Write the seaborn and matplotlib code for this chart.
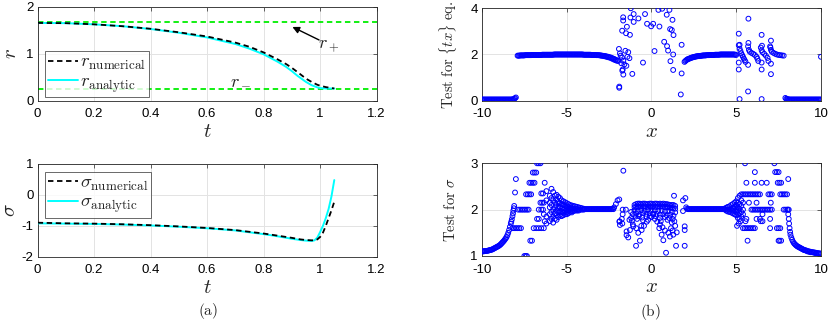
import numpy as np
import pandas as pd
import matplotlib
matplotlib.use("Agg")
import matplotlib.pyplot as plt
import seaborn as sns

# === DADOS: PAINEL (a) ===
t_an = [0.0, 0.1, 0.2, 0.3, 0.4, 0.5, 0.6, 0.7, 0.75, 0.8, 0.85, 0.88, 0.9, 0.92, 0.95, 0.97, 0.99, 1.0, 1.02, 1.05]
r_an = [1.66, 1.655, 1.63, 1.59, 1.53, 1.45, 1.35, 1.21, 1.11, 0.99, 0.83, 0.72, 0.63, 0.53, 0.40, 0.33, 0.285, 0.27, 0.26, 0.26]
t_num = [0.0, 0.1, 0.2, 0.3, 0.4, 0.5, 0.6, 0.7, 0.75, 0.8, 0.85, 0.88, 0.9, 0.92, 0.95, 0.97, 0.99, 1.0, 1.02, 1.05]
r_num = [1.66, 1.655, 1.63, 1.59, 1.535, 1.46, 1.37, 1.24, 1.15, 1.03, 0.88, 0.78, 0.70, 0.61, 0.47, 0.40, 0.34, 0.32, 0.29, 0.26]
r_plus = 1.67
r_minus = 0.26

ts_an = [0.0, 0.1, 0.2, 0.3, 0.4, 0.5, 0.6, 0.7, 0.8, 0.85, 0.9, 0.93, 0.95, 0.97, 0.98, 0.99, 1.0, 1.01, 1.02, 1.03, 1.04, 1.05]
sig_an = [-0.92, -0.93, -0.94, -0.96, -0.99, -1.03, -1.08, -1.15, -1.27, -1.34, -1.42, -1.46, -1.48, -1.49, -1.47, -1.38, -1.2, -1.0, -0.75, -0.45, -0.05, 0.48]
ts_num = [0.0, 0.1, 0.2, 0.3, 0.4, 0.5, 0.6, 0.7, 0.8, 0.85, 0.9, 0.93, 0.95, 0.97, 0.98, 0.99, 1.0, 1.01, 1.02, 1.03, 1.04, 1.05]
sig_num = [-0.90, -0.92, -0.93, -0.95, -0.98, -1.02, -1.07, -1.14, -1.25, -1.32, -1.39, -1.44, -1.46, -1.47, -1.47, -1.44, -1.36, -1.22, -1.0, -0.75, -0.5, -0.22]

# === DADOS: PAINEL (b), teste {tx} ===
tx_x = [-10.0, -9.9, -9.8, -9.7, -9.6, -9.5, -9.4, -9.3, -9.2, -9.1, -9.0, -8.9, -8.8, -8.7, -8.6, -8.5, -8.4, -8.3, -8.2, -8.1, -8.05, -8.0,
        -7.9, -7.8, -7.7, -7.6, -7.5, -7.4, -7.3, -7.2, -7.1, -7.0, -6.9, -6.8, -6.7, -6.6, -6.5, -6.4, -6.3, -6.2, -6.1, -6.0,
        -5.9, -5.8, -5.7, -5.6, -5.5, -5.4, -5.3, -5.2, -5.1, -5.0, -4.9, -4.8, -4.7, -4.6, -4.5, -4.4, -4.3, -4.2, -4.1, -4.0,
        -3.9, -3.8, -3.7, -3.6, -3.5, -3.4, -3.3, -3.2, -3.1, -3.0, -2.9, -2.8, -2.7, -2.6, -2.5, -2.4, -2.3, -2.2, -2.1, -2.0,
        -1.95, -1.9, -1.92, -1.86, -1.74, -1.66, -1.54, -1.48, -1.37, -1.3, -1.7, -1.66, -1.9, -1.13, -1.72, -1.67, -1.73, -1.67,
        -1.5, -1.45, -1.24, -1.22, -1.05, -1.05, -0.77, -0.5, -0.38, -0.26, -0.02, 0.1, 0.18, 0.41, 0.47, 0.63, 0.75, 0.9, 0.92,
        0.98, 1.06, 1.1, 1.12, 1.2, 1.24, 1.3, 1.28, 1.28, 1.78, 1.78, 1.73, -1.6, -1.42, -1.82, -1.78, -1.27,
        1.95, 2.0, 2.05, 2.1, 2.2, 2.3, 2.4, 2.5, 2.6, 2.7, 2.8, 2.9, 3.0, 3.1, 3.2, 3.3, 3.4, 3.5, 3.6, 3.7, 3.8, 3.9, 4.0,
        4.1, 4.2, 4.3, 4.4, 4.5, 4.6, 4.7, 4.8, 4.9, 5.0,
        5.15, 5.2, 5.25, 5.3, 5.35, 5.4, 5.45, 5.5, 5.55,
        5.7, 5.75, 5.8, 5.9, 6.0, 6.1, 6.2, 6.25, 6.3,
        6.45, 6.5, 6.55, 6.65, 6.75, 6.85, 6.9,
        7.0, 7.05, 7.1, 7.2, 7.3, 7.4, 7.5, 7.6, 7.7, 7.8,
        5.15, 5.15, 5.2, 5.15, 5.72, 5.7, 5.7, 5.72, 6.5, 6.5, 6.5, 6.5, 7.05, 7.05, 7.05, 5.2, 6.52, 7.02,
        7.9, 7.95, 8.0, 8.1, 8.2, 8.3, 8.4, 8.5, 8.6, 8.7, 8.8, 8.9, 9.0, 9.1, 9.2, 9.3, 9.4, 9.5, 9.6, 9.7, 9.8, 9.9, 10.0, 10.0]
tx_y = [0.05, 0.05, 0.05, 0.05, 0.05, 0.05, 0.05, 0.05, 0.05, 0.05, 0.05, 0.05, 0.05, 0.05, 0.05, 0.05, 0.05, 0.05, 0.06, 0.08, 0.11, 0.14,
        1.95, 1.95, 1.96, 1.96, 1.96, 1.97, 1.97, 1.97, 1.97, 1.98, 1.98, 1.98, 1.98, 1.98, 1.98, 1.99, 1.99, 1.99, 1.99, 1.99,
        1.99, 1.99, 2.0, 2.0, 2.0, 2.0, 2.0, 2.0, 2.0, 2.0, 2.0, 2.0, 2.0, 2.0, 2.0, 2.0, 2.0, 2.0, 2.0, 1.99,
        1.99, 1.99, 1.99, 1.99, 1.98, 1.98, 1.98, 1.97, 1.97, 1.96, 1.95, 1.94, 1.93, 1.91, 1.89, 1.87, 1.84, 1.81, 1.77, 1.74,
        1.72, 0.56, 2.24, 2.05, 1.87, 1.73, 2.16, 1.51, 2.1, 1.84, 1.35, 1.13, 0.61, 1.16, 1.3, 3.61, 3.03, 3.47,
        2.92, 3.2, 3.6, 4.0, 3.75, 3.41, 3.56, 1.65, 3.75, 3.33, 3.22, 3.33, 2.15, 3.93, 3.21, 3.98, 2.55, 3.72, 2.36,
        2.17, 3.93, 3.1, 1.71, 3.06, 3.5, 2.84, 2.0, 1.33, 2.42, 1.18, 0.27, 1.57, 1.9, 1.95, 1.62, 2.85,
        1.68, 1.72, 1.75, 1.78, 1.81, 1.84, 1.87, 1.89, 1.91, 1.92, 1.93, 1.94, 1.95, 1.96, 1.96, 1.97, 1.97, 1.98, 1.98, 1.98, 1.99, 1.99, 1.99,
        2.0, 2.0, 2.0, 2.0, 2.0, 2.0, 2.0, 2.0, 2.0, 1.98,
        2.4, 2.25, 2.15, 2.05, 1.97, 1.9, 1.82, 1.75, 1.68,
        2.35, 2.2, 2.12, 2.07, 2.03, 1.98, 1.9, 1.82, 1.72,
        2.3, 2.18, 2.1, 2.03, 1.95, 1.85, 1.72,
        2.35, 2.2, 2.12, 2.07, 2.03, 2.0, 1.98, 1.97, 1.96, 1.95,
        2.9, 1.35, 0.07, 1.65, 3.55, 0.4, 1.55, 2.5, 2.85, 1.35, 0.07, 1.65, 2.6, 1.15, 1.6, 2.42, 2.38, 2.3,
        0.12, 0.08, 0.06, 0.05, 0.05, 0.05, 0.05, 0.05, 0.05, 0.05, 0.05, 0.05, 0.05, 0.05, 0.05, 0.05, 0.05, 0.05, 0.05, 0.05, 0.05, 0.05, 0.05, 1.9]

# pontos intermediários das faixas densas
tx_mid_x = [-9.95, -9.85, -9.75, -9.65, -9.55, -9.45, -9.35, -9.25, -9.15, -9.05, -8.95, -8.85, -8.75, -8.65, -8.55, -8.45, -8.35, -8.25, -8.15,
            -7.85, -7.75, -7.65, -7.55, -7.45, -7.35, -7.25, -7.15, -7.05, -6.95, -6.85, -6.75, -6.65, -6.55, -6.45, -6.35, -6.25, -6.15, -6.05, -5.95,
            -5.85, -5.75, -5.65, -5.55, -5.45, -5.35, -5.25, -5.15, -5.05, -4.95, -4.85, -4.75, -4.65, -4.55, -4.45, -4.35, -4.25, -4.15, -4.05,
            -3.95, -3.85, -3.75, -3.65, -3.55, -3.45, -3.35, -3.25, -3.15, -3.05, -2.95, -2.85, -2.75, -2.65, -2.55, -2.45, -2.35, -2.25, -2.15, -2.05,
            2.15, 2.25, 2.35, 2.45, 2.55, 2.65, 2.75, 2.85, 2.95, 3.05, 3.15, 3.25, 3.35, 3.45, 3.55, 3.65, 3.75, 3.85, 3.95, 4.05,
            4.15, 4.25, 4.35, 4.45, 4.55, 4.65, 4.75, 4.85, 4.95,
            8.05, 8.15, 8.25, 8.35, 8.45, 8.55, 8.65, 8.75, 8.85, 8.95, 9.05, 9.15, 9.25, 9.35, 9.45, 9.55, 9.65, 9.75, 9.85, 9.95]
tx_mid_y = [0.05, 0.05, 0.05, 0.05, 0.05, 0.05, 0.05, 0.05, 0.05, 0.05, 0.05, 0.05, 0.05, 0.05, 0.05, 0.05, 0.05, 0.05, 0.055,
            1.95, 1.96, 1.96, 1.96, 1.97, 1.97, 1.97, 1.97, 1.98, 1.98, 1.98, 1.98, 1.98, 1.98, 1.99, 1.99, 1.99, 1.99, 1.99, 1.99,
            1.99, 2.0, 2.0, 2.0, 2.0, 2.0, 2.0, 2.0, 2.0, 2.0, 2.0, 2.0, 2.0, 2.0, 2.0, 2.0, 2.0, 2.0, 2.0,
            1.99, 1.99, 1.99, 1.99, 1.98, 1.98, 1.98, 1.97, 1.97, 1.96, 1.95, 1.94, 1.92, 1.9, 1.88, 1.86, 1.83, 1.79, 1.76, 1.73,
            1.8, 1.83, 1.86, 1.88, 1.9, 1.92, 1.93, 1.94, 1.95, 1.96, 1.96, 1.97, 1.97, 1.98, 1.98, 1.98, 1.99, 1.99, 1.99, 2.0,
            2.0, 2.0, 2.0, 2.0, 2.0, 2.0, 2.0, 2.0, 1.99,
            0.07, 0.05, 0.05, 0.05, 0.05, 0.05, 0.05, 0.05, 0.05, 0.05, 0.05, 0.05, 0.05, 0.05, 0.05, 0.05, 0.05, 0.05, 0.05, 0.05]

# === DADOS: PAINEL (b), teste sigma ===
sg_x = [-10.0, -9.9, -9.8, -9.7, -9.6, -9.5, -9.4, -9.3, -9.2, -9.1, -9.0, -8.9, -8.8, -8.7, -8.6, -8.55, -8.5, -8.45, -8.4, -8.35,
        -8.3, -8.27, -8.24, -8.2, -8.17, -8.15, -8.12, -8.1,
        -8.0, -8.05, -8.2, -8.1, -8.0, -7.9, -7.8, -7.7, -7.86, -7.75, -7.65, -7.55, -7.45, -7.35, -7.25, -7.4, -7.3, -7.2, -7.1,
        -7.2, -7.1, -7.0, -6.9, -7.0, -6.9, -6.8, -6.75, -6.65, -6.55, -7.15, -7.05, -7.5, -7.42, -7.35,
        -6.95, -6.8, -6.65, -6.5, -6.35, -6.65, -6.5, -6.4, -6.75, -6.65, -6.55, -6.45, -6.35, -6.5, -6.4, -6.3, -6.3, -6.35,
        -6.2, -6.2, -6.2, -6.2, -6.0, -6.0, -6.0, -6.0, -6.0, -5.9, -5.9, -5.9, -5.9, -5.9, -5.8, -5.8, -5.8, -5.8, -5.8,
        -5.7, -5.7, -5.7, -5.7, -5.7, -5.6, -5.6, -5.6, -5.6, -5.6, -5.6, -5.5, -5.5, -5.5, -5.5, -5.5, -5.4, -5.4, -5.4, -5.4, -5.4,
        -5.3, -5.3, -5.3, -5.3, -5.3, -5.2, -5.2, -5.2, -5.2, -5.2, -5.1, -5.1, -5.1, -5.1, -5.1, -5.0, -5.0, -5.0, -5.0, -5.0,
        -4.9, -4.9, -4.9, -4.9, -4.8, -4.8, -4.8, -4.8, -4.7, -4.7, -4.7, -4.7, -4.6, -4.6, -4.6, -4.5, -4.5, -4.5,
        -4.4, -4.4, -4.4, -4.3, -4.3, -4.3, -4.2, -4.2, -4.1, -4.1, -4.0, -4.0,
        -3.9, -3.8, -3.7, -3.6, -3.5, -3.4, -3.3, -3.2, -3.1, -3.0, -2.9, -2.8, -2.7, -2.6, -2.5, -2.4, -2.3, -2.2, -2.1, -2.0, -1.9,
        -1.66, -1.88, -1.75, -1.72, -1.7, -1.7, -1.89, -1.86, -1.51, -1.47, -1.47, -1.37, -1.27, -1.07, -0.91, -0.78, -0.68, -0.58,
        -0.44, -0.28, -0.09, 0.1, 0.34, 0.46, 0.6, 0.7, 0.86, 0.99, 1.09, 1.29, 1.45, 1.49, 1.33, 1.96, 1.96, 1.96, 1.86, 1.86, 2.0,
        -1.0, -0.9, -0.8, -0.7, -0.6, -0.5, -0.4, -0.3, -0.2, -0.1, 0.0, 0.1, 0.2, 0.3, 0.4, 0.5, 0.6, 0.7, 0.8, 0.9, 1.0, 1.1, 1.2, 1.3, 1.4,
        -1.0, -0.9, -0.8, -0.7, -0.6, -0.5, -0.4, -0.3, -0.2, -0.1, 0.0, 0.1, 0.2, 0.3, 0.4, 0.5, 0.6, 0.7, 0.8, 0.9, 1.0, 1.1, 1.2, 1.3, 1.4,
        -1.2, -1.0, -0.8, -0.6, -0.4, -0.2, 0.0, 0.2, 0.4, 0.6, 0.8, 1.0, 1.2, 1.4,
        -1.1, -0.9, -0.7, -0.5, -0.3, -0.1, 0.1, 0.3, 0.5, 0.7, 0.9, 1.1, 1.3,
        -1.2, -0.95, -0.75, -0.55, -0.3, 0.0, 0.25, 0.5, 0.8, 1.05, 1.25,
        -1.3, -1.15, -0.85, -0.5, -0.2, 0.2, 0.55, 0.95, 1.2, 1.35,
        -1.1, -0.9, -0.6, 0.5, 0.65, 0.8, 1.15, 1.25, 1.4,
        2.05, 2.1, 2.2, 2.3, 2.4, 2.5, 2.6, 2.7, 2.8, 2.9, 3.0, 3.1, 3.2, 3.3, 3.4, 3.5, 3.6, 3.7, 3.8, 3.9, 4.0, 4.1, 4.2, 4.3,
        4.4, 4.4, 4.5, 4.5, 4.5, 4.6, 4.6, 4.6, 4.7, 4.7, 4.7, 4.8, 4.8, 4.8, 4.8, 4.9, 4.9, 4.9, 4.9, 5.0, 5.0, 5.0, 5.0, 5.0,
        5.1, 5.1, 5.1, 5.1, 5.1, 5.1, 5.2, 5.2, 5.2, 5.2, 5.2, 5.3, 5.3, 5.3, 5.3, 5.4, 5.4, 5.4, 5.25, 5.15, 5.05,
        5.52, 7.25, 6.1, 7.3, 7.4, 7.5, 5.6, 6.1, 6.5, 6.8, 7.45, 7.55, 7.65, 8.07,
        5.3, 5.4, 5.5, 5.6, 5.7, 5.8, 5.9, 6.0, 6.1, 6.2, 6.3, 6.4, 6.9, 7.0, 7.1, 7.6, 7.7, 7.8, 7.9, 8.0,
        6.2, 7.04, 5.9, 6.0, 6.1, 6.2, 6.3, 6.4, 6.5, 6.6, 6.7, 6.8, 6.9, 7.0, 7.1, 7.8, 7.9, 8.0, 8.1,
        5.6, 6.2, 6.4, 7.0, 6.45, 6.55, 5.4, 5.5, 5.6, 5.7, 5.8, 5.9, 6.0, 6.1, 7.0, 7.4, 7.5, 7.6, 5.67, 7.5, 7.55, 7.65, 5.55, 6.55, 5.75,
        8.05, 8.07, 8.1, 8.12, 8.15, 8.18, 8.2, 8.25, 8.3, 8.35, 8.4, 8.5, 8.6, 8.7, 8.8, 8.9, 9.0, 9.1, 9.2, 9.3, 9.4, 9.5, 9.6,
        9.7, 9.8, 9.9, 10.0]
sg_y = [1.10, 1.10, 1.11, 1.11, 1.12, 1.13, 1.14, 1.16, 1.18, 1.20, 1.22, 1.25, 1.29, 1.33, 1.38, 1.41, 1.45, 1.50, 1.56, 1.63,
        1.70, 1.74, 1.79, 1.86, 1.92, 1.98, 2.03, 2.08,
        2.66, 2.37, 1.6, 1.6, 1.6, 1.6, 1.6, 1.6, 2.0, 2.0, 2.0, 2.0, 2.0, 2.0, 2.0, 2.33, 2.33, 2.33, 2.33,
        2.58, 2.58, 2.58, 2.58, 2.8, 2.8, 2.8, 3.0, 3.0, 3.0, 1.33, 1.33, 1.0, 1.0, 1.0,
        1.6, 1.6, 1.6, 1.6, 1.6, 2.0, 2.0, 2.0, 1.8, 1.8, 2.15, 2.15, 2.15, 2.35, 2.35, 2.58, 1.75, 1.9,
        2.4, 2.2, 1.85, 1.7, 2.3, 2.15, 2.05, 1.9, 1.75, 2.45, 2.25, 2.1, 1.95, 1.8, 2.38, 2.2, 2.0, 1.85, 1.72,
        2.3, 2.15, 2.05, 1.92, 1.8, 2.32, 2.22, 2.1, 1.98, 1.88, 1.78, 2.28, 2.16, 2.04, 1.94, 1.84, 2.25, 2.14, 2.06, 1.97, 1.88,
        2.2, 2.12, 2.03, 1.95, 1.86, 2.18, 2.1, 2.0, 1.93, 1.88, 2.16, 2.08, 2.02, 1.96, 1.9, 2.14, 2.07, 2.0, 1.94, 1.9,
        2.12, 2.05, 1.98, 1.92, 2.1, 2.04, 2.0, 1.95, 2.09, 2.03, 1.97, 1.94, 2.08, 2.02, 1.97, 2.07, 2.02, 1.98,
        2.06, 2.01, 1.98, 2.05, 2.0, 1.98, 2.04, 2.0, 2.03, 2.0, 2.02, 2.0,
        2.01, 2.01, 2.01, 2.01, 2.01, 2.01, 2.01, 2.01, 2.01, 2.01, 2.01, 2.01, 2.01, 2.01, 2.01, 2.01, 2.02, 2.05, 2.12, 2.2, 2.22,
        2.84, 1.75, 1.8, 1.7, 2.0, 1.9, 1.74, 1.67, 2.0, 1.53, 1.45, 1.4, 1.56, 1.64, 1.22, 1.5, 1.33, 1.56,
        1.65, 1.74, 1.86, 1.91, 1.74, 1.6, 1.46, 1.34, 1.07, 1.5, 1.42, 1.46, 1.22, 1.51, 2.3, 1.22, 1.56, 1.64, 1.97, 2.2, 2.25,
        2.1, 2.12, 2.13, 2.13, 2.12, 2.13, 2.13, 2.12, 2.12, 2.13, 2.13, 2.12, 2.13, 2.13, 2.12, 2.13, 2.12, 2.13, 2.12, 2.12, 2.11, 2.1, 2.1, 2.1, 2.08,
        2.05, 2.06, 2.07, 2.06, 2.07, 2.06, 2.07, 2.06, 2.06, 2.07, 2.06, 2.07, 2.06, 2.06, 2.07, 2.06, 2.07, 2.06, 2.05, 2.06, 2.05, 2.04, 2.04, 2.03, 2.02,
        1.95, 1.98, 1.96, 1.99, 1.97, 2.0, 1.98, 1.99, 1.97, 1.98, 1.96, 1.97, 1.95, 1.94,
        1.9, 1.92, 1.9, 1.93, 1.91, 1.92, 1.9, 1.91, 1.89, 1.9, 1.88, 1.89, 1.87,
        1.82, 1.85, 1.86, 1.83, 1.85, 1.84, 1.86, 1.82, 1.84, 1.82, 1.8,
        1.78, 1.76, 1.8, 1.77, 1.78, 1.8, 1.75, 1.78, 1.72, 1.75,
        1.68, 1.6, 1.65, 1.68, 1.62, 1.55, 1.6, 1.55, 1.65,
        2.05, 2.02, 2.01, 2.01, 2.01, 2.01, 2.01, 2.01, 2.01, 2.01, 2.01, 2.01, 2.01, 2.01, 2.01, 2.01, 2.01, 2.01, 2.01, 2.01, 2.01, 2.01, 2.01, 2.02,
        2.04, 1.98, 2.06, 2.0, 1.96, 2.07, 2.0, 1.95, 2.1, 2.01, 1.94, 2.12, 2.04, 1.98, 1.92, 2.15, 2.06, 1.98, 1.9, 2.18, 2.1, 2.02, 1.95, 1.88,
        2.25, 2.15, 2.05, 1.98, 1.9, 1.82, 2.3, 2.12, 2.02, 1.92, 1.8, 2.2, 2.08, 1.95, 1.85, 2.15, 2.0, 1.9, 1.75, 1.7, 1.65,
        3.0, 3.0, 2.81, 2.81, 2.81, 2.81, 2.58, 2.58, 2.58, 2.58, 2.58, 2.58, 2.58, 2.66,
        2.33, 2.33, 2.33, 2.33, 2.33, 2.33, 2.33, 2.33, 2.33, 2.33, 2.33, 2.33, 2.33, 2.33, 2.33, 2.33, 2.33, 2.33, 2.33, 2.33,
        2.15, 2.15, 2.0, 2.0, 2.0, 2.0, 2.0, 2.0, 2.0, 2.0, 2.0, 2.0, 2.0, 2.0, 2.0, 2.0, 2.0, 2.0, 2.0,
        1.8, 1.8, 1.8, 1.8, 1.75, 1.75, 1.6, 1.6, 1.6, 1.6, 1.6, 1.6, 1.6, 1.6, 1.6, 1.6, 1.6, 1.6, 1.33, 1.33, 1.33, 1.33, 1.75, 1.9, 2.15,
        2.0, 1.9, 1.8, 1.7, 1.6, 1.52, 1.46, 1.4, 1.35, 1.31, 1.28, 1.24, 1.21, 1.19, 1.17, 1.15, 1.13, 1.12, 1.1, 1.09, 1.08, 1.08, 1.07,
        1.06, 1.06, 1.05, 1.05]

sg_mid_x = [-9.95, -9.85, -9.75, -9.65, -9.55, -9.45, -9.35, -9.25, -9.15, -9.05, -8.95, -8.85, -8.75, -8.65,
            -3.95, -3.85, -3.75, -3.65, -3.55, -3.45, -3.35, -3.25, -3.15, -3.05, -2.95, -2.85, -2.75, -2.65, -2.55, -2.45, -2.35, -2.25,
            2.15, 2.25, 2.35, 2.45, 2.55, 2.65, 2.75, 2.85, 2.95, 3.05, 3.15, 3.25, 3.35, 3.45, 3.55, 3.65, 3.75, 3.85, 3.95, 4.05,
            4.15, 4.25, 4.35,
            8.45, 8.55, 8.65, 8.75, 8.85, 8.95, 9.05, 9.15, 9.25, 9.35, 9.45, 9.55, 9.65, 9.75, 9.85, 9.95]
sg_mid_y = [1.10, 1.105, 1.11, 1.115, 1.125, 1.135, 1.15, 1.17, 1.19, 1.21, 1.235, 1.27, 1.31, 1.355,
            2.01, 2.01, 2.01, 2.01, 2.01, 2.01, 2.01, 2.01, 2.01, 2.01, 2.01, 2.01, 2.01, 2.01, 2.01, 2.01, 2.01, 2.01,
            2.01, 2.01, 2.01, 2.01, 2.01, 2.01, 2.01, 2.01, 2.01, 2.01, 2.01, 2.01, 2.01, 2.01, 2.01, 2.01, 2.01, 2.01, 2.01, 2.01,
            2.01, 2.01, 2.01,
            1.26, 1.225, 1.2, 1.18, 1.16, 1.14, 1.125, 1.115, 1.105, 1.095, 1.085, 1.08, 1.075, 1.065, 1.06, 1.055]

# === ESTILO ===
sns.set_theme(style="whitegrid")
plt.rcParams["font.family"] = ["Liberation Sans", "DejaVu Sans"]
plt.rcParams["mathtext.fontset"] = "cm"
plt.rcParams["axes.unicode_minus"] = False
cor_eixo = "#262626"
cor_grade = "#e3e3e3"


def estilo(ax):
    ax.set_facecolor("white")
    for s in ax.spines.values():
        s.set_visible(True)
        s.set_color(cor_eixo)
        s.set_linewidth(0.6)
    ax.grid(True, color=cor_grade, linewidth=0.7)
    ax.tick_params(axis="both", direction="in", length=3, width=0.5, colors=cor_eixo,
                   labelsize=9.5, top=True, right=True)
    ax.tick_params(axis="x", pad=5.5)
    ax.tick_params(axis="y", pad=3)
    for lab in ax.get_xticklabels() + ax.get_yticklabels():
        lab.set_color("black")


fig = plt.figure(figsize=(8.30, 3.21), dpi=100)
ax1 = fig.add_axes([0.0454, 0.6863, 0.4084, 0.2919])
ax2 = fig.add_axes([0.0454, 0.2003, 0.4084, 0.2888])
ax3 = fig.add_axes([0.5807, 0.6863, 0.4084, 0.2879])
ax4 = fig.add_axes([0.5807, 0.2025, 0.4084, 0.2888])

leg_kw = dict(fontsize=13.5, frameon=True, fancybox=False, edgecolor=cor_eixo, handlelength=1.6,
              handletextpad=0.1, borderpad=0.15, labelspacing=0.05, borderaxespad=0)

# === (a) r(t) ===
ax1.axhline(r_plus, color="#00ee00", ls=(0, (3, 2)), lw=1.3, zorder=1)
ax1.axhline(r_minus, color="#00ee00", ls=(0, (3, 2)), lw=1.3, zorder=1)
sns.lineplot(x=t_an, y=r_an, ax=ax1, color="cyan", lw=1.4, label=r"$r_{\mathrm{analytic}}$", zorder=3)
sns.lineplot(x=t_num, y=r_num, ax=ax1, color="black", lw=1.3, ls=(0, (3, 2)), label=r"$r_{\mathrm{numerical}}$", zorder=4)
ax1.set_xlim(0, 1.2)
ax1.set_ylim(0, 2)
ax1.set_xticks([0, 0.2, 0.4, 0.6, 0.8, 1.0, 1.2])
ax1.set_xticklabels(["0", "0.2", "0.4", "0.6", "0.8", "1", "1.2"])
ax1.set_yticks([0, 1, 2])
ax1.set_xlabel(r"$t$", fontsize=15, labelpad=1)
ax1.set_ylabel(r"$r$", fontsize=15, labelpad=4)
ax1.annotate("", xy=(0.893, 1.6), xytext=(1.005, 1.27),
             arrowprops=dict(arrowstyle="-|>", color="black", lw=1.0, mutation_scale=10))
ax1.text(1.03, 1.17, r"$r_+$", fontsize=13, ha="center", va="center")
ax1.text(0.72, 0.45, r"$r_-$", fontsize=13, ha="center", va="center")
h, l = ax1.get_legend_handles_labels()
leg = ax1.legend(h[::-1], l[::-1], loc="lower left", bbox_to_anchor=(0.022, 0.035), **leg_kw)
leg.get_frame().set_linewidth(0.6)
estilo(ax1)

# === (a) sigma(t) ===
sns.lineplot(x=ts_an, y=sig_an, ax=ax2, color="cyan", lw=1.4, label=r"$\sigma_{\mathrm{analytic}}$", zorder=3)
sns.lineplot(x=ts_num, y=sig_num, ax=ax2, color="black", lw=1.3, ls=(0, (3, 2)), label=r"$\sigma_{\mathrm{numerical}}$", zorder=4)
ax2.set_xlim(0, 1.2)
ax2.set_ylim(-2, 1)
ax2.set_xticks([0, 0.2, 0.4, 0.6, 0.8, 1.0, 1.2])
ax2.set_xticklabels(["0", "0.2", "0.4", "0.6", "0.8", "1", "1.2"])
ax2.set_yticks([-2, -1, 0, 1])
ax2.set_xlabel(r"$t$", fontsize=15, labelpad=1)
ax2.set_ylabel(r"$\sigma$", fontsize=15, labelpad=2)
h, l = ax2.get_legend_handles_labels()
leg = ax2.legend(h[::-1], l[::-1], loc="upper left", bbox_to_anchor=(0.022, 0.915), **leg_kw)
leg.get_frame().set_linewidth(0.6)
estilo(ax2)

# === (b) dispersões ===
paineis = [(ax3, tx_x + tx_mid_x, tx_y + tx_mid_y), (ax4, sg_x + sg_mid_x, sg_y + sg_mid_y)]
for ax, xs, ys in paineis:
    sns.scatterplot(x=xs, y=ys, ax=ax, marker="o", s=12, color="blue",
                    facecolor="none", edgecolor="blue", linewidth=0.7, zorder=3)
    ax.set_xlim(-10, 10)
    ax.set_xticks([-10, -5, 0, 5, 10])
    ax.set_xlabel(r"$x$", fontsize=15, labelpad=1)

ax3.set_ylim(0, 4)
ax3.set_yticks([0, 2, 4])
ax3.set_ylabel(r"$\mathrm{Test\ for\ }\{tx\}\mathrm{\ eq.}$", fontsize=10.5, labelpad=8)
ax4.set_ylim(1, 3)
ax4.set_yticks([1, 2, 3])
ax4.set_ylabel(r"$\mathrm{Test\ for\ }\sigma$", fontsize=10.5, labelpad=9)
estilo(ax3)
estilo(ax4)

fig.text(0.2506, 0.030, r"$\mathrm{(a)}$", fontsize=11, ha="center", va="center")
fig.text(0.7831, 0.028, r"$\mathrm{(b)}$", fontsize=11, ha="center", va="center")

fig.savefig("out.png", dpi=100)
plt.close(fig)
